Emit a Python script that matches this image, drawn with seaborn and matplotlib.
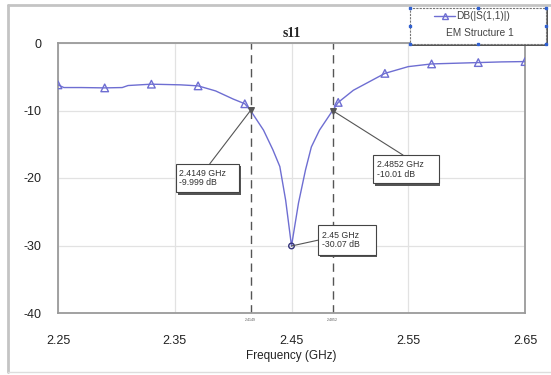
import numpy as np
import pandas as pd
import matplotlib.pyplot as plt
import seaborn as sns
from matplotlib.lines import Line2D
from matplotlib.patches import Rectangle

# ---------- data ----------
freq = [2.25, 2.255, 2.27, 2.29, 2.305, 2.31, 2.33, 2.355, 2.37, 2.385, 2.40, 2.41,
        2.4149, 2.426, 2.434, 2.44, 2.445, 2.45, 2.456, 2.462, 2.467, 2.474, 2.4852,
        2.49, 2.503, 2.53, 2.55, 2.57, 2.59, 2.61, 2.63, 2.65]
s11_db = [-6.2, -6.6, -6.6, -6.65, -6.6, -6.3, -6.1, -6.2, -6.35, -7.1, -8.3, -9.0,
          -9.999, -12.9, -15.8, -18.3, -23.3, -30.07, -23.7, -18.8, -15.4, -12.9, -10.01,
          -8.8, -7.0, -4.5, -3.5, -3.1, -3.0, -2.9, -2.8, -2.75]

marker_freq = [2.25, 2.29, 2.33, 2.37, 2.41, 2.49, 2.53, 2.57, 2.61, 2.65]
marker_db = [-6.2, -6.65, -6.1, -6.35, -9.0, -8.8, -4.5, -3.1, -2.9, -2.75]

mk_freq = [2.4149, 2.45, 2.4852]
mk_db = [-9.999, -30.07, -10.01]
mk_text = ["2.4149 GHz\n-9.999 dB", "2.45 GHz\n-30.07 dB", "2.4852 GHz\n-10.01 dB"]
# box position (left, top) for each marker label, in data units
mk_box = [(2.351, -17.9), (2.473, -27.0), (2.520, -16.6)]

xticks = [2.25, 2.35, 2.45, 2.55, 2.65]
yticks = [0, -10, -20, -30, -40]

df = pd.DataFrame({"freq": freq, "db": s11_db})
dm = pd.DataFrame({"freq": marker_freq, "db": marker_db})

# ---------- plot ----------
sns.set_theme(style="white")
plt.rcParams["font.family"] = ["Liberation Sans", "DejaVu Sans"]

W, H = 551, 375
fig = plt.figure(figsize=(W / 100, H / 100), dpi=100)
ax = fig.add_axes([58 / W, 1 - 313 / H, (525 - 58) / W, (313 - 43) / H])

line_col = "#6e6ed2"
sns.lineplot(data=df, x="freq", y="db", ax=ax, color=line_col, linewidth=1.0, zorder=3)
sns.scatterplot(data=dm, x="freq", y="db", ax=ax, marker="^", s=30,
                facecolor="none", edgecolor=line_col, linewidth=1.0, zorder=4)

ax.set_xlim(2.25, 2.65)
ax.set_ylim(-40, 0)
ax.set_xticks(xticks)
ax.set_xticklabels([f"{t:.2f}" for t in xticks], fontsize=9, color="#222222")
ax.set_yticks(yticks)
ax.set_yticklabels([str(t) for t in yticks], fontsize=9, color="#222222")
ax.tick_params(axis="x", length=0, pad=16)
ax.tick_params(axis="y", length=0, pad=12)
ax.set_xlabel("Frequency (GHz)", fontsize=8.5, color="#222222", labelpad=2)
ax.set_ylabel("")
ax.set_title("s11", fontsize=10, fontweight="bold", family="Liberation Serif", pad=4)

ax.grid(True, color="#e2e2e2", linewidth=0.9)
for s in ax.spines.values():
    s.set_color("#9a9a9a")
    s.set_linewidth(1.3)

# marker lines and labels
for f in [mk_freq[0], mk_freq[2]]:
    ax.axvline(f, color="#555555", linewidth=1.0, dashes=(6, 4), zorder=2)
    ax.text(f, -40.8, f"{f:.4f}", fontsize=2.5, ha="center", va="top", color="#555555")

ax.scatter([mk_freq[0], mk_freq[2]], [mk_db[0], mk_db[2]], marker="v", s=16,
           color="#555555", zorder=5)
ax.scatter([mk_freq[1]], [mk_db[1]], marker="o", s=16, facecolor="none",
           edgecolor="#33337a", linewidth=1.0, zorder=5)

box_w = [0.054, 0.049, 0.056]
box_h = [4.2, 4.4, 4.2]
leader = [(2.380, -17.9), (2.473, -29.2), (2.5455, -16.6)]
for i in range(3):
    x0, y0 = mk_box[i]
    # shadow
    ax.add_patch(Rectangle((x0 + 0.0015, y0 - box_h[i] - 0.35), box_w[i], box_h[i],
                           facecolor="#555555", edgecolor="none", zorder=6))
    ax.add_patch(Rectangle((x0, y0 - box_h[i]), box_w[i], box_h[i],
                           facecolor="white", edgecolor="#444444", linewidth=0.8, zorder=7))
    ax.text(x0 + 0.003, y0 - box_h[i] / 2, mk_text[i], fontsize=6.3, ha="left",
            va="center", color="#333333", linespacing=1.1, zorder=8)
    ax.plot([mk_freq[i], leader[i][0]], [mk_db[i], leader[i][1]], color="#555555",
            linewidth=0.8, zorder=5)

# window frame
fig.add_artist(Line2D([8 / W, 1], [1 - 5 / H, 1 - 5 / H], color="#c4c4c4", linewidth=2))
fig.add_artist(Line2D([8 / W, 8 / W], [1 - 5 / H, 1 - 372 / H], color="#c4c4c4", linewidth=2))
fig.add_artist(Line2D([8 / W, 1], [1 - 372 / H, 1 - 372 / H], color="#dddddd", linewidth=1))

# legend box (drawn by hand, like the selected legend in the screenshot)
lx0, ly0, lx1, ly1 = 410, 8, 546, 44
fig.add_artist(Rectangle(((lx0 + 2) / W, 1 - (ly1 + 2) / H), (lx1 - lx0) / W, (ly1 - ly0) / H,
                         facecolor="#555555", edgecolor="none", transform=fig.transFigure))
fig.add_artist(Rectangle((lx0 / W, 1 - ly1 / H), (lx1 - lx0) / W, (ly1 - ly0) / H,
                         facecolor="white", edgecolor="#777777", linewidth=0.8,
                         linestyle=(0, (2, 1)), transform=fig.transFigure))
fig.add_artist(Line2D([434 / W, 455 / W], [1 - 16 / H, 1 - 16 / H], color=line_col,
                      linewidth=1.0))
fig.add_artist(Line2D([444.5 / W], [1 - 16 / H], color=line_col, marker="^", markersize=4,
                      markerfacecolor="none", markeredgecolor=line_col, linestyle="none"))
fig.text(456 / W, 1 - 16 / H, "DB(|S(1,1)|)", fontsize=7.3, va="center", ha="left", color="#444444")
fig.text(446 / W, 1 - 33 / H, "EM Structure 1", fontsize=7.3, va="center", ha="left", color="#444444")
for hx in [lx0, (lx0 + lx1) / 2, lx1]:
    for hy in [ly0, ly1]:
        fig.add_artist(Line2D([hx / W], [1 - hy / H], marker="s", markersize=2,
                              color="#3060d0", linestyle="none"))
for hx in [lx0, lx1]:
    fig.add_artist(Line2D([hx / W], [1 - (ly0 + ly1) / 2 / H], marker="s", markersize=2,
                          color="#3060d0", linestyle="none"))

fig.savefig("out.png", dpi=100, facecolor="white")
